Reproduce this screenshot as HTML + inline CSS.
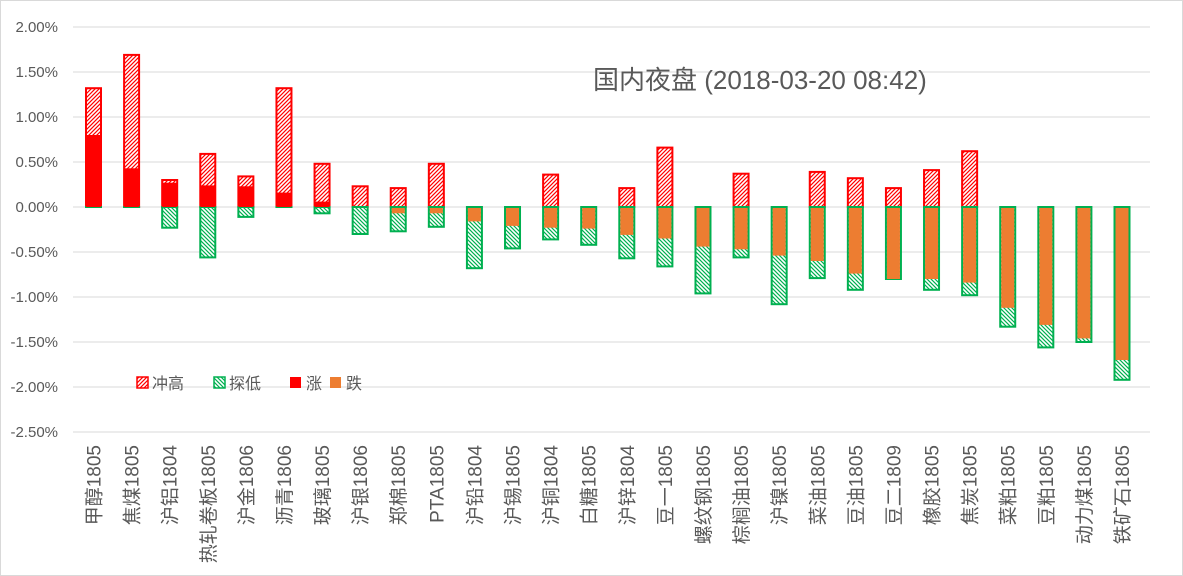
<!DOCTYPE html>
<html><head><meta charset="utf-8"><style>
html,body{margin:0;padding:0;background:#fff;}
svg{display:block;}
text{font-family:"Liberation Sans","Noto Sans CJK SC",sans-serif;}
</style></head><body>
<svg width="1183" height="576" viewBox="0 0 1183 576" xmlns="http://www.w3.org/2000/svg">
<defs>
<pattern id="ph" width="4" height="4" patternUnits="userSpaceOnUse"><rect width="4" height="4" fill="#fff"/><path d="M-1,1 l2,-2 M0,4 l4,-4 M3,5 l2,-2" stroke="#ff0000" stroke-width="1.2"/></pattern>
<pattern id="pl" width="4" height="4" patternUnits="userSpaceOnUse"><rect width="4" height="4" fill="#fff"/><path d="M-1,3 l2,2 M0,0 l4,4 M3,-1 l2,2" stroke="#00b050" stroke-width="1.2"/></pattern>
</defs>
<rect x="0.5" y="0.5" width="1182" height="575" fill="#fff" stroke="#d9d9d9"/>
<g id="grid" stroke="#d9d9d9" stroke-width="1"></g>
<g id="ylab" font-size="15" fill="#595959" text-anchor="end"></g>
<g id="bars"></g>
<g id="xlab" font-size="19" fill="#595959"></g>
<text x="593" y="89" font-size="26" fill="#595959">国内夜盘 (2018-03-20 08:42)</text>
<g font-size="16" fill="#595959">
<rect x="137" y="377" width="11" height="11" fill="url(#ph)" stroke="#ff0000" stroke-width="1.5"/><text x="152" y="389">冲高</text>
<rect x="214" y="377" width="11" height="11" fill="url(#pl)" stroke="#00b050" stroke-width="1.5"/><text x="229" y="389">探低</text>
<rect x="290" y="377" width="11" height="11" fill="#ff0000"/><text x="306" y="389">涨</text>
<rect x="330" y="377" width="11" height="11" fill="#ed7d31"/><text x="346" y="389">跌</text>
</g>
</svg>
<script>
const NS="http://www.w3.org/2000/svg";
function el(t,a,p,txt){const e=document.createElementNS(NS,t);for(const k in a)e.setAttribute(k,a[k]);if(txt)e.textContent=txt;document.getElementById(p).appendChild(e);return e;}
const Y=v=>207-v*90;
for(let i=0;i<10;i++){const v=2-0.5*i;const y=Y(v);el('line',{x1:73,x2:1150,y1:y,y2:y},'grid');el('text',{x:58,y:y+5},'ylab',v.toFixed(2)+'%');}
const d=[
["甲醇1805",1.32,0.80,0],["焦煤1805",1.69,0.43,0],["沪铝1804",0.30,0.27,-0.23],["热轧卷板1805",0.59,0.24,-0.56],
["沪金1806",0.34,0.23,-0.11],["沥青1806",1.32,0.16,0],["玻璃1805",0.48,0.06,-0.07],["沪银1806",0.23,0,-0.30],
["郑棉1805",0.21,-0.07,-0.27],["PTA1805",0.48,-0.07,-0.22],["沪铅1804",0,-0.16,-0.68],["沪锡1805",0,-0.21,-0.46],
["沪铜1804",0.36,-0.23,-0.36],["白糖1805",0,-0.24,-0.42],["沪锌1804",0.21,-0.31,-0.57],["豆一1805",0.66,-0.35,-0.66],
["螺纹钢1805",0,-0.44,-0.96],["棕榈油1805",0.37,-0.47,-0.56],["沪镍1805",0,-0.54,-1.08],["菜油1805",0.39,-0.60,-0.79],
["豆油1805",0.32,-0.74,-0.92],["豆二1809",0.21,-0.80,-0.80],["橡胶1805",0.41,-0.80,-0.92],["焦炭1805",0.62,-0.84,-0.98],
["菜粕1805",0,-1.12,-1.33],["豆粕1805",0,-1.31,-1.56],["动力煤1805",0,-1.46,-1.50],["铁矿石1805",0,-1.70,-1.92]];
const n=d.length;const step=(1122-93.5)/(n-1);
d.forEach((r,i)=>{
 const cx=93.5+step*i, w=15, x=cx-w/2;
 const [nm,h,c,l]=r;
 if(h>0) el('rect',{x:x,y:Y(h),width:w,height:Y(0)-Y(h),fill:'url(#ph)',stroke:'#ff0000','stroke-width':2},'bars');
 el('rect',{x:x,y:Y(0),width:w,height:Math.max(Y(l)-Y(0),0.01),fill:'url(#pl)',stroke:'#00b050','stroke-width':2},'bars');
 if(c>0) el('rect',{x:x,y:Y(c),width:w,height:Y(0)-Y(c),fill:'#ff0000'},'bars');
 if(c<0) el('rect',{x:x+1,y:Y(0)+1,width:w-2,height:Y(c)-Y(0)-1,fill:'#ed7d31'},'bars');
 el('text',{x:0,y:0,'text-anchor':'end',transform:`translate(${cx+7},445) rotate(-90)`},'xlab',nm);
});
</script>
</body></html>
